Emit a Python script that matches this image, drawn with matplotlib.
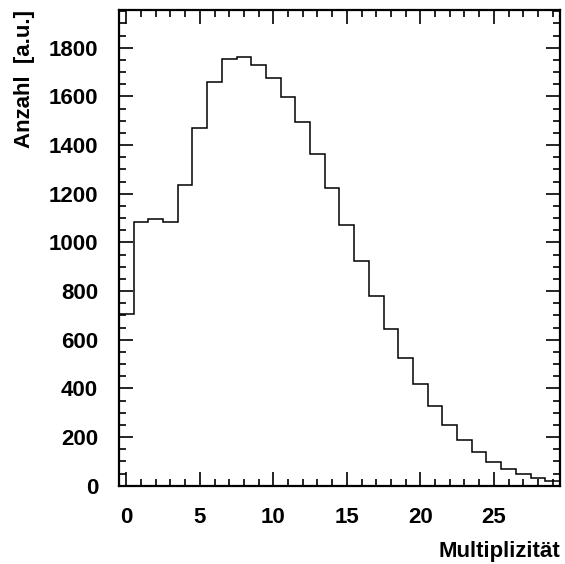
import numpy as np
import matplotlib
matplotlib.use('Agg')
import matplotlib.pyplot as plt
from matplotlib.ticker import MultipleLocator

plt.rcParams['font.family'] = ['Liberation Sans', 'DejaVu Sans']
plt.rcParams['font.weight'] = 'bold'

# Multiplizität 0..29, Bin-Inhalte
multiplicity = np.arange(0, 30)
counts = [706, 1082, 1095, 1085, 1236, 1472, 1657, 1752, 1760, 1728,
          1676, 1598, 1494, 1364, 1222, 1072, 925, 778, 643, 524,
          417, 327, 248, 187, 137, 99, 69, 47, 30, 19]
edges = np.append(multiplicity - 0.5, multiplicity[-1] + 0.5)

fig = plt.figure(figsize=(5.65, 5.64), dpi=100)
ax = fig.add_axes([0.2106, 0.1388, 0.7805, 0.8435])

ax.stairs(counts, edges, baseline=None, color='black', linewidth=1.1)

ax.set_xlim(-0.5, 29.5)
ax.set_ylim(0, 1955)

ax.xaxis.set_major_locator(MultipleLocator(5))
ax.xaxis.set_minor_locator(MultipleLocator(1))
ax.yaxis.set_major_locator(MultipleLocator(200))
ax.yaxis.set_minor_locator(MultipleLocator(50))

ax.tick_params(which='both', direction='in', top=True, right=True, width=1.2)
ax.tick_params(which='major', length=10)
ax.tick_params(which='minor', length=5)
ax.tick_params(axis='x', which='major', pad=15, labelsize=16)
ax.tick_params(axis='y', which='major', pad=15, labelsize=16)
for lab in ax.get_xticklabels() + ax.get_yticklabels():
    lab.set_fontweight('bold')

for sp in ax.spines.values():
    sp.set_linewidth(1.6)

ax.set_xlabel('Multiplizität', fontsize=16, fontweight='bold', loc='right',
              labelpad=10)
ax.set_ylabel('Anzahl  [a.u.]', fontsize=16, fontweight='bold', loc='top',
              labelpad=10)

fig.savefig('out.png', dpi=100)
